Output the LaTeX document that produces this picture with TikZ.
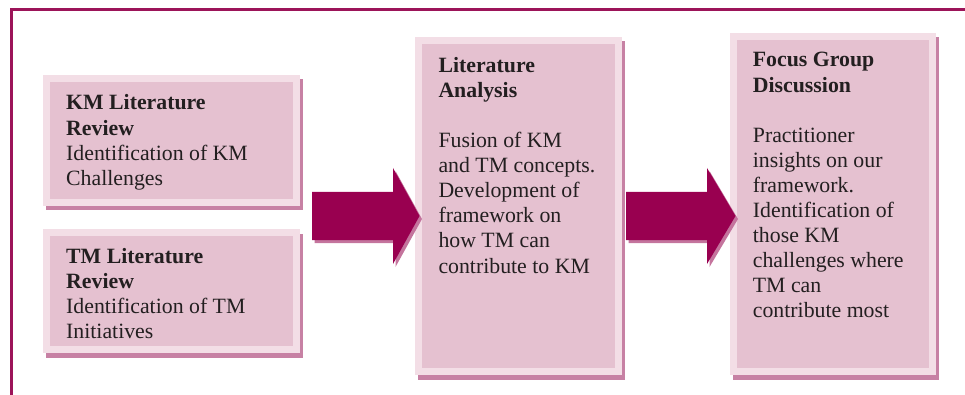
\documentclass[tikz,border=0pt]{standalone}
\usepackage{fontspec}
\setmainfont{Liberation Serif}
\usetikzlibrary{shadows}

\definecolor{framec}{HTML}{9C1459}
\definecolor{boxin}{HTML}{E5C1D0}
\definecolor{boxout}{HTML}{F3DEE6}
\definecolor{boxshadow}{HTML}{C781A4}
\definecolor{arrowc}{HTML}{990050}
\definecolor{arrowshadow}{HTML}{C4749D}
\definecolor{textc}{HTML}{231F20}

\tikzset{
  stagebox/.style={rectangle, fill=boxin, draw=boxout, line width=7pt, inner sep=0pt,
    drop shadow={shadow xshift=3pt, shadow yshift=-4.5pt, fill=boxshadow,
      draw=boxshadow, line width=7pt, opacity=1}},
  boxtext/.style={anchor=base west, inner sep=0pt, text=textc,
    font=\fontsize{21.8pt}{25.1pt}\selectfont},
  flowarrow/.style={fill=arrowc},
  flowshadow/.style={fill=arrowshadow},
}

\begin{document}
\begin{tikzpicture}[x=1pt,y=-1pt]
\useasboundingbox (0,0) rectangle (965,395);

% outer frame (top and left edges)
\draw[framec, line width=3pt] (11,395) -- (11,10) -- (965,10);

% stage boxes
\node[stagebox, minimum width=250pt, minimum height=124pt] (km) at (171.5,140.5) {};
\node[stagebox, minimum width=250pt, minimum height=117pt] (tm) at (171.5,291) {};
\node[stagebox, minimum width=200pt, minimum height=331pt] (la) at (518.5,206) {};
\node[stagebox, minimum width=199pt, minimum height=335pt] (fg) at (833,204) {};

% box texts
\node[boxtext] (kmtext) at (66,110) {\parbox[t]{220pt}{\raggedright
  \textbf{KM Literature}\\ \textbf{Review}\\ Identification of KM\\ Challenges}};
\node[boxtext] (tmtext) at (66,263.3) {\parbox[t]{220pt}{\raggedright
  \textbf{TM Literature}\\ \textbf{Review}\\ Identification of TM\\ Initiatives}};
\node[boxtext] (latext) at (438.3,72.3) {\parbox[t]{180pt}{\raggedright
  \textbf{Literature}\\ \textbf{Analysis}\\[25.1pt] Fusion of KM\\ and TM concepts.\\
  Development of\\ framework on\\ how TM can\\ contribute to KM}};
\node[boxtext] (fgtext) at (752.7,67) {\parbox[t]{180pt}{\raggedright
  \textbf{Focus Group}\\ \textbf{Discussion}\\[25.1pt] Practitioner\\ insights on our\\
  framework.\\ Identification of\\ those KM\\ challenges where\\ TM can\\ contribute most}};

% block arrows between the stages
\coordinate (a1) at (312,216);
\coordinate (a2) at (626,216);
\foreach \s/\len/\head in {a1/81/26.5, a2/81/28.5}{
  \fill[flowshadow] ([shift={(2.5,3)}]\s) ++(0,-24) -- ++(\len,0) -- ++(0,-24)
    -- ++(\head,48) -- ++(-\head,48) -- ++(0,-24) -- ++(-\len,0) -- cycle;
  \fill[flowarrow] (\s) ++(0,-24) -- ++(\len,0) -- ++(0,-24)
    -- ++(\head,48) -- ++(-\head,48) -- ++(0,-24) -- ++(-\len,0) -- cycle;
}
\end{tikzpicture}
\end{document}
